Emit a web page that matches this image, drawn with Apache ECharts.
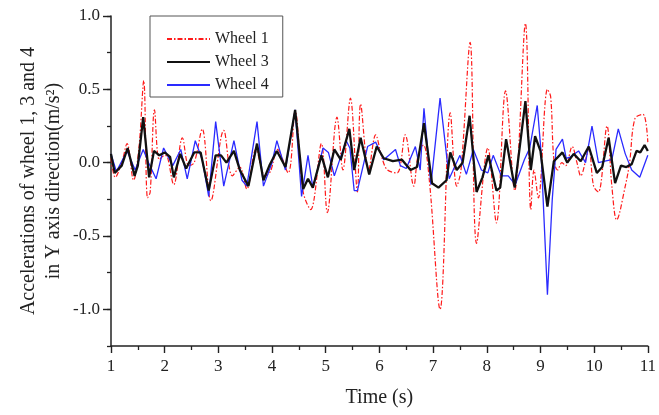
<!DOCTYPE html>
<html>
<head>
<meta charset="utf-8">
<script src="https://cdn.jsdelivr.net/npm/echarts@6/dist/echarts.min.js"></script>
<style>html,body{margin:0;padding:0;background:#fff}#c{width:659px;height:415px}</style>
</head>
<body>
<div id="c"></div>
<script>
// Wheel 1 (red, dash-dot)
const wheel1T = [1.00,1.08,1.20,1.30,1.42,1.52,1.61,1.68,1.73,1.81,1.90,2.00,2.05,2.17,2.33,2.45,2.55,2.70,2.86,3.10,3.26,3.40,3.53,3.70,3.87,3.97,4.10,4.30,4.43,4.58,4.72,4.92,5.03,5.21,5.32,5.46,5.59,5.65,5.80,5.93,6.05,6.15,6.33,6.48,6.64,6.72,6.82,6.93,7.13,7.32,7.44,7.52,7.69,7.81,8.02,8.18,8.35,8.52,8.72,8.82,8.88,8.96,9.13,9.19,9.25,9.32,9.40,9.47,9.59,9.68,9.75,9.90,9.99,10.08,10.24,10.33,10.42,10.58,10.66,10.76,10.91,11.00];
const wheel1V = [0.03,-0.10,0.00,0.13,-0.12,0.10,0.56,-0.24,-0.20,0.36,0.02,0.05,0.04,-0.15,0.17,-0.02,0.00,0.23,-0.26,0.22,-0.09,-0.03,-0.18,0.09,-0.09,-0.06,0.09,-0.07,0.35,-0.20,-0.32,0.13,-0.34,0.31,-0.05,0.44,-0.20,0.40,-0.05,0.19,0.03,-0.05,-0.07,0.19,-0.16,0.05,0.12,-0.12,-1.00,0.34,-0.16,-0.05,0.82,-0.55,0.10,-0.41,0.49,-0.19,0.95,-0.32,-0.05,-0.24,0.50,0.45,0.02,-0.05,0.00,-0.02,0.11,0.00,-0.09,0.09,-0.16,-0.20,0.25,-0.16,-0.39,-0.16,0.00,0.30,0.33,0.14];

// Wheel 3 (black)
const wheel3T = [1.00,1.07,1.20,1.31,1.44,1.50,1.60,1.71,1.80,1.90,2.00,2.10,2.17,2.29,2.40,2.55,2.67,2.82,2.95,3.05,3.15,3.29,3.40,3.56,3.72,3.84,3.95,4.09,4.25,4.43,4.58,4.67,4.76,4.92,5.04,5.16,5.28,5.44,5.53,5.65,5.81,5.95,6.08,6.25,6.42,6.58,6.70,6.83,6.98,7.10,7.25,7.32,7.44,7.55,7.68,7.81,7.92,8.03,8.18,8.25,8.36,8.52,8.72,8.82,8.90,9.00,9.13,9.25,9.41,9.50,9.62,9.75,9.90,10.05,10.15,10.27,10.39,10.50,10.60,10.70,10.79,10.86,10.94,11.00];
const wheel3V = [0.06,-0.07,-0.02,0.10,-0.09,-0.02,0.31,-0.10,0.08,0.05,0.07,0.04,-0.10,0.06,-0.04,0.07,0.07,-0.19,0.05,0.05,0.00,0.08,-0.05,-0.16,0.13,-0.12,-0.02,0.08,-0.03,0.36,-0.18,-0.11,-0.17,0.05,-0.10,0.09,0.02,0.23,-0.05,0.17,-0.08,0.11,0.03,0.01,0.02,-0.05,-0.03,0.27,-0.14,-0.17,-0.12,0.07,-0.05,0.00,0.32,-0.20,-0.10,0.05,-0.19,-0.17,0.16,-0.17,0.42,-0.05,0.18,0.08,-0.30,0.01,0.07,0.00,0.06,0.01,0.11,-0.07,-0.03,0.17,-0.14,-0.02,-0.03,-0.01,0.08,0.07,0.12,0.08];

// Wheel 4 (blue)
const wheel4T = [1.00,1.10,1.30,1.45,1.60,1.70,1.84,1.98,2.15,2.30,2.42,2.57,2.70,2.82,2.95,3.10,3.29,3.44,3.53,3.72,3.84,4.00,4.09,4.25,4.43,4.55,4.67,4.76,4.95,5.05,5.16,5.38,5.45,5.53,5.59,5.78,5.93,6.08,6.30,6.39,6.50,6.67,6.76,6.83,6.96,7.13,7.30,7.40,7.50,7.62,7.75,7.90,8.02,8.12,8.27,8.40,8.53,8.70,8.80,8.94,9.01,9.13,9.22,9.29,9.41,9.48,9.56,9.71,9.84,9.96,10.08,10.20,10.33,10.45,10.58,10.70,10.85,11.00];
const wheel4V = [0.06,-0.06,0.08,-0.05,0.09,0.00,-0.11,0.10,-0.02,0.09,-0.11,0.15,0.02,-0.23,0.28,-0.16,0.15,-0.12,-0.16,0.28,-0.16,0.00,0.15,-0.05,0.36,-0.23,0.05,-0.17,0.10,0.07,-0.09,0.15,0.10,-0.19,-0.19,0.11,0.14,0.02,0.09,-0.02,-0.04,0.11,-0.05,0.37,-0.15,0.44,-0.11,-0.03,0.05,-0.08,0.09,-0.05,-0.07,0.05,-0.09,-0.09,-0.15,0.02,0.10,0.39,0.08,-0.90,-0.25,0.09,0.16,0.03,0.04,0.08,0.00,0.25,0.00,0.01,0.02,0.23,0.06,-0.05,-0.10,0.05];

const xTicks = [1,2,3,4,5,6,7,8,9,10,11];
const yTicks = [-1.0,-0.5,0.0,0.5,1.0];
const seriesNames = ['Wheel 1','Wheel 3','Wheel 4'];

const pairs = (t, v) => t.map((x, i) => [x, v[i]]);
const FONT = "'Liberation Serif','Times New Roman',serif";

const chart = echarts.init(document.getElementById('c'), null, {renderer: 'canvas'});
chart.setOption({
  animation: false,
  backgroundColor: '#fff',
  grid: [
    {left: 111, right: 6, top: 16, bottom: 69},
    {left: 111, right: 6, top: 16, height: 293.3}
  ],
  legend: {
    data: seriesNames,
    orient: 'vertical',
    left: 150, top: 16,
    padding: [15, 14, 4, 16],
    itemWidth: 43, itemHeight: 14, itemGap: 7,
    borderColor: '#555', borderWidth: 1,
    backgroundColor: '#fff',
    textStyle: {fontFamily: FONT, fontSize: 16, color: '#222'},
    itemStyle: {opacity: 0}
  },
  xAxis: [
    {
      type: 'value', gridIndex: 0, min: xTicks[0], max: xTicks[xTicks.length-1], interval: 1,
      name: 'Time (s)', nameLocation: 'middle', nameGap: 42,
      nameTextStyle: {fontFamily: FONT, fontSize: 20, color: '#222'},
      axisLine: {onZero: false, lineStyle: {color: '#222', width: 1.5}},
      axisTick: {show: true, inside: false, length: 7, lineStyle: {color: '#222', width: 1.4}},
      minorTick: {show: true, splitNumber: 2, length: 4, lineStyle: {color: '#222', width: 1.3}},
      axisLabel: {fontFamily: FONT, fontSize: 17, color: '#222', margin: 12},
      splitLine: {show: false}
    },
    {type: 'value', gridIndex: 1, min: 1, max: 11, show: false}
  ],
  yAxis: [
    {
      type: 'value', gridIndex: 0, min: -1.25, max: 1, interval: 0.25,
      name: 'Accelerations of wheel 1, 3 and 4\nin Y axis direction(m/s²)',
      nameLocation: 'middle', nameGap: 45, nameRotate: 90,
      nameTextStyle: {fontFamily: FONT, fontSize: 20, color: '#222', lineHeight: 25, align: 'center'},
      axisLine: {onZero: false, lineStyle: {color: '#222', width: 1.5}},
      axisTick: {show: true, inside: false, length: 4, lineStyle: {color: '#222', width: 1.3}},
      axisLabel: {show: false},
      splitLine: {show: false}
    },
    {
      type: 'value', gridIndex: 1, min: yTicks[0], max: yTicks[yTicks.length-1], interval: 0.5,
      axisLine: {show: false},
      axisTick: {show: true, inside: false, length: 8, lineStyle: {color: '#222', width: 1.4}},
      axisLabel: {fontFamily: FONT, fontSize: 17, color: '#222', margin: 11, formatter: v => v.toFixed(1)},
      splitLine: {show: false}
    }
  ],
  series: [
    {
      name: seriesNames[0], type: 'line', xAxisIndex: 0, yAxisIndex: 0,
      data: pairs(wheel1T, wheel1V), symbol: 'none', smooth: 0.35, z: 1,
      lineStyle: {color: '#ff1a1a', width: 1.2, type: [5, 2, 1.5, 2]},
      itemStyle: {color: '#ff1a1a'}
    },
    {
      name: seriesNames[1], type: 'line', xAxisIndex: 0, yAxisIndex: 0,
      data: pairs(wheel3T, wheel3V), symbol: 'none', z: 3,
      lineStyle: {color: '#111', width: 2.3},
      itemStyle: {color: '#111'}
    },
    {
      name: seriesNames[2], type: 'line', xAxisIndex: 0, yAxisIndex: 0,
      data: pairs(wheel4T, wheel4V), symbol: 'none', z: 2,
      lineStyle: {color: '#2a2aff', width: 1.3},
      itemStyle: {color: '#2a2aff'}
    }
  ]
});
</script>
</body>
</html>
